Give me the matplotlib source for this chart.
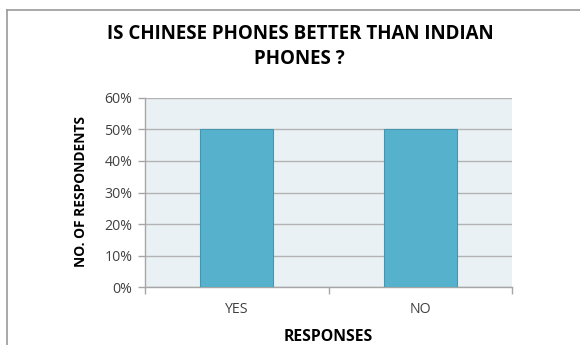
import matplotlib.pyplot as plt
from matplotlib.lines import Line2D
from matplotlib.ticker import MultipleLocator, PercentFormatter

responses = ["YES", "NO"]
share = [0.50, 0.50]

plt.rcParams['font.family'] = ['Open Sans', 'DejaVu Sans']

fig = plt.figure(figsize=(5.8, 3.45), dpi=100)
ax = fig.add_axes([0.25, 0.168, 0.633, 0.548])

x = range(len(responses))
ax.bar(x, share, width=0.4, color="#56B2CC", edgecolor="#4596AE", linewidth=0.8, zorder=3)

ax.set_facecolor("#EAF1F5")
ax.set_xlim(-0.5, len(responses) - 0.5)
ax.set_ylim(0, 0.6)
ax.yaxis.set_major_locator(MultipleLocator(0.1))
ax.yaxis.set_major_formatter(PercentFormatter(1.0, decimals=0))
ax.grid(axis="y", color="#B3B3B3", linewidth=1.0, zorder=0)

# category labels sit between the boundary ticks
ax.set_xticks([-0.5, 0.5, 1.5])
ax.set_xticklabels([])
ax.set_xticks(list(x), minor=True)
ax.set_xticklabels(responses, minor=True)
ax.tick_params(axis="x", which="major", length=5, color="#A6A6A6", width=1)
ax.tick_params(axis="x", which="minor", length=0, pad=11, labelsize=10.2, labelcolor="#404040")
ax.tick_params(axis="y", length=5, color="#A6A6A6", width=1, labelsize=10.2, labelcolor="#404040", pad=4)

for side in ["top", "right"]:
    ax.spines[side].set_visible(False)
for side in ["left", "bottom"]:
    ax.spines[side].set_color("#A6A6A6")
    ax.spines[side].set_linewidth(1)

fig.text(0.517, 0.901, "IS CHINESE PHONES BETTER THAN INDIAN", ha="center", va="center",
         fontsize=13.5, fontweight="bold", color="black")
fig.text(0.517, 0.830, "PHONES ?", ha="center", va="center",
         fontsize=13.5, fontweight="bold", color="black")
fig.text(0.140, 0.446, "NO. OF RESPONDENTS", rotation=90, ha="center", va="center",
         fontsize=9.9, fontweight="bold", color="black")
fig.text(0.566, 0.022, "RESPONSES", ha="center", va="center",
         fontsize=11.3, fontweight="bold", color="black")

# outer frame of the chart area
fig.add_artist(Line2D([0.012, 0.012], [0.0, 0.971], color="#9A9A9A", linewidth=1.2))
fig.add_artist(Line2D([0.012, 1.0], [0.971, 0.971], color="#9A9A9A", linewidth=1.2))

fig.savefig("out.png", dpi=100)
